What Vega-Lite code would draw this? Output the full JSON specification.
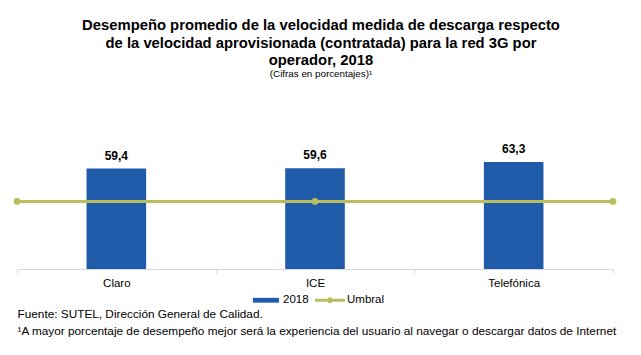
{
  "$schema": "https://vega.github.io/schema/vega-lite/v6.json",
  "autosize": "none",
  "width": 596,
  "height": 169,
  "padding": {"left": 17, "top": 100, "right": 28, "bottom": 86},
  "background": "white",
  "config": {
    "view": {"stroke": null},
    "font": "Liberation Sans",
    "locale": {"number": {"decimal": ",", "thousands": ".", "grouping": [3], "currency": ["", ""]}}
  },
  "title": {
    "text": ["Desempeño promedio de la velocidad medida de descarga respecto", "de la velocidad aprovisionada (contratada) para la red 3G por", "operador, 2018"],
    "subtitle": "(Cifras en porcentajes)¹",
    "anchor": "middle",
    "dx": 6,
    "offset": 21,
    "font": "Liberation Sans",
    "fontSize": 14.8,
    "fontWeight": "bold",
    "lineHeight": 17.5,
    "color": "#000000",
    "subtitleFont": "Liberation Sans",
    "subtitleFontSize": 9.8,
    "subtitleColor": "#000000",
    "subtitlePadding": 1
  },
  "datasets": {
    "bars": [
      {"operador": "Claro", "valor": 59.4, "serie": "2018"},
      {"operador": "ICE", "valor": 59.6, "serie": "2018"},
      {"operador": "Telefónica", "valor": 63.3, "serie": "2018"}
    ],
    "umbral": [
      {"pos": 0, "valor": 40, "serie": "Umbral"},
      {"pos": 1, "valor": 40, "serie": "Umbral"},
      {"pos": 2, "valor": 40, "serie": "Umbral"}
    ]
  },
  "layer": [
    {
      "data": {"name": "bars"},
      "layer": [
        {
          "mark": {"type": "bar", "width": {"band": 0.3}},
          "encoding": {
            "x": {
              "field": "operador", "type": "nominal", "sort": null,
              "scale": {"paddingInner": 0, "paddingOuter": 0},
              "axis": {
                "labelAngle": 0,
                "labelFontSize": 11.5,
                "labelColor": "#000000",
                "labelPadding": 4,
                "tickBand": "extent",
                "tickSize": 4,
                "tickColor": "#D9D9D9",
                "domainColor": "#D9D9D9",
                "title": ["Fuente: SUTEL, Dirección General de Calidad.", "¹A mayor porcentaje de desempeño mejor será la experiencia del usuario al navegar o descargar datos de Internet"],
                "titleAnchor": "start",
                "titleAlign": "left",
                "titleX": 0,
                "titleY": 48,
                "titleBaseline": "alphabetic",
                "titleFontSize": 11.8,
                "titleFontWeight": "normal",
                "titleColor": "#000000",
                "titleLineHeight": 17
              }
            },
            "y": {"field": "valor", "type": "quantitative", "scale": {"domain": [0, 95.5]}, "axis": null},
            "color": {
              "field": "serie", "type": "nominal",
              "scale": {"domain": ["2018", "Umbral"], "range": ["#1F5BA8", "#B8BE5E"]},
              "legend": {
                "title": null,
                "orient": "none",
                "direction": "horizontal",
                "legendX": 234,
                "legendY": 185,
                "symbolSize": 900,
                "labelFontSize": 11.5,
                "labelColor": "#000000",
                "labelOffset": 2,
                "columnPadding": 6,
                "encode": {
                  "symbols": {
                    "update": {
                      "shape": {"signal": "datum.value == '2018' ? 'M-0.87,-0.16H0.87V0.16H-0.87Z' : 'M-1,-0.1H1V0.1H-1Z M-0.2,0 A0.2,0.2 0 1,1 0.2,0 A0.2,0.2 0 1,1 -0.2,0Z'"},
                      "fill": {"signal": "datum.value == '2018' ? '#1F5BA8' : '#B8BE5E'"},
                      "stroke": {"value": "transparent"},
                      "strokeWidth": {"value": 0},
                      "opacity": {"value": 1}
                    }
                  }
                }
              }
            }
          }
        },
        {
          "mark": {"type": "text", "baseline": "alphabetic", "dy": -9, "fontSize": 12, "fontWeight": "bold", "color": "#000000"},
          "encoding": {
            "x": {"field": "operador", "type": "nominal", "sort": null},
            "y": {"field": "valor", "type": "quantitative"},
            "text": {"field": "valor", "type": "quantitative", "format": ".1f"}
          }
        }
      ]
    },
    {
      "data": {"name": "umbral"},
      "mark": {"type": "line", "strokeWidth": 3, "point": {"filled": true, "size": 45, "color": "#B8BE5E"}},
      "encoding": {
        "x": {"field": "pos", "type": "quantitative", "scale": {"domain": [0, 2], "nice": false}, "axis": null},
        "y": {"field": "valor", "type": "quantitative"},
        "color": {"field": "serie", "type": "nominal"}
      }
    }
  ],
  "resolve": {"scale": {"x": "independent"}}
}
